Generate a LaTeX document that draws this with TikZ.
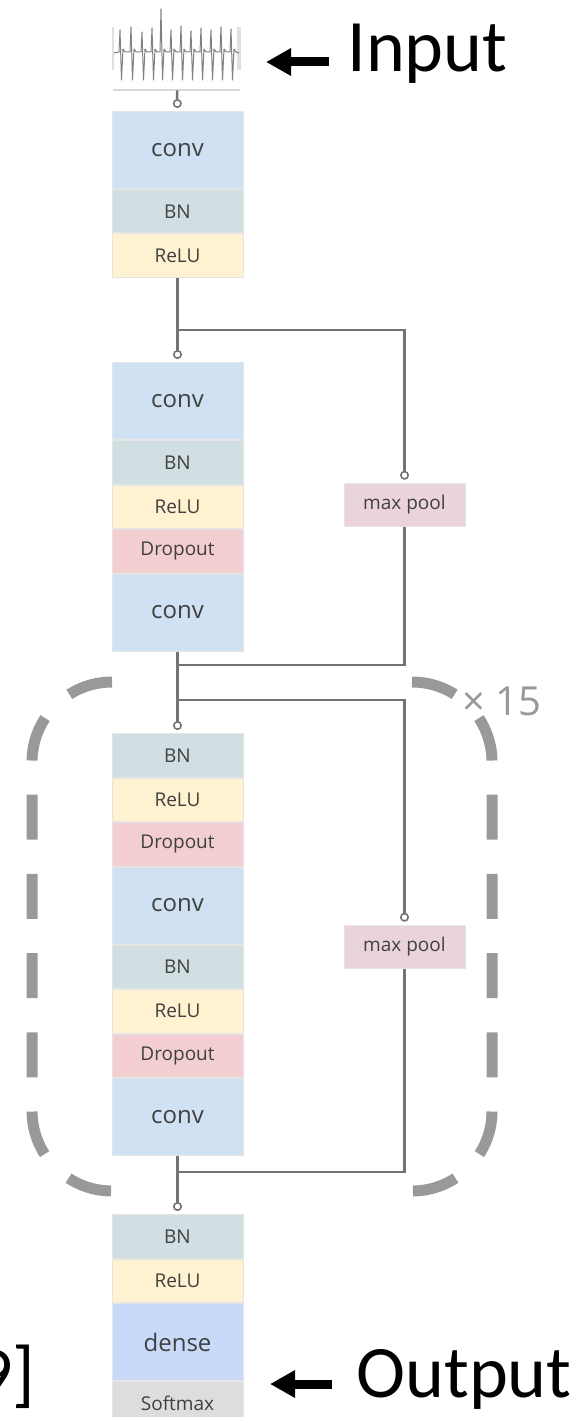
\documentclass[tikz,border=0pt]{standalone}
\usepackage{fontspec}
\setmainfont{Carlito}
\newfontfamily\layerfont{Open Sans}
\usetikzlibrary{positioning,arrows.meta}

\definecolor{convblue}{RGB}{207,225,242}
\definecolor{bngray}{RGB}{209,223,227}
\definecolor{reluyellow}{RGB}{255,242,208}
\definecolor{droppink}{RGB}{243,206,208}
\definecolor{poolpink}{RGB}{235,211,222}
\definecolor{denseblue}{RGB}{201,218,248}
\definecolor{softgray}{RGB}{221,221,221}

\begin{document}
\begin{tikzpicture}[x=0.5pt,y=-0.5pt,
    blk/.style={draw=black!10, line width=0.5pt, fill=#1, minimum width=65.5pt, minimum height=21.75pt,
        inner sep=0pt, text=black!75, font=\layerfont\fontsize{9.5}{10}\selectfont},
    bigblk/.style={blk=#1, minimum height=38.5pt, font=\layerfont\fontsize{12}{13}\selectfont},
    link/.style={draw=black!55, line width=1.25pt},
    tolayer/.style={link, -{Circle[open, length=4.5pt, width=4.5pt, line width=0.8pt]}, shorten >=1.5pt},
    bracket/.style={draw=black!40, line width=5.5pt, dash pattern=on 22.5pt off 17.1pt, rounded corners=40pt},
    pointer/.style={line width=4.5pt, -{Triangle[length=12.5pt,width=13pt]}},
    caption/.style={inner sep=0pt, font=\fontsize{37}{40}\selectfont}]
    \useasboundingbox (0,0) rectangle (586,1417);

    % input trace
    \node[minimum width=63.5pt, minimum height=42pt, inner sep=0pt] (ecg) at (177,48) {};
    \draw[black!15, line width=1pt] (113,90) -- (240,90);
    \draw[black!12, line width=1pt] (113,27) -- (113,70);
    \draw[black!12, line width=2pt] (239,27) -- (239,70);
    \draw[black!50, line width=0.5pt, line join=round] (114,53)
        foreach \x/\top in {119/30, 130/27, 141/32, 151/28, 160/9, 170/30, 180/26, 190/31, 200/28, 210/30, 220/27, 230/29}
        { -- (\x,52) -- (\x+1,\top) -- (\x+2.5,80) -- (\x+4,49) -- (\x+6,52) } -- (239,53);

    % first block
    \node[bigblk=convblue, anchor=north] (conv1) at (177.5,111) {conv};
    \node[blk=bngray, below=0pt of conv1] (bn1) {BN};
    \node[blk=reluyellow, below=0pt of bn1] (relu1) {ReLU};

    % second block
    \node[bigblk=convblue, anchor=north] (conv2) at (177.5,362) {conv};
    \node[blk=bngray, below=0pt of conv2] (bn2) {BN};
    \node[blk=reluyellow, below=0pt of bn2] (relu2) {ReLU};
    \node[blk=droppink, below=0pt of relu2] (drop2) {Dropout};
    \node[bigblk=convblue, below=0pt of drop2] (conv3) {conv};

    % repeated block
    \node[blk=bngray, anchor=north] (bn3) at (177.5,733) {BN};
    \node[blk=reluyellow, below=0pt of bn3] (relu3) {ReLU};
    \node[blk=droppink, below=0pt of relu3] (drop3) {Dropout};
    \node[bigblk=convblue, below=0pt of drop3] (conv4) {conv};
    \node[blk=bngray, below=0pt of conv4] (bn4) {BN};
    \node[blk=reluyellow, below=0pt of bn4] (relu4) {ReLU};
    \node[blk=droppink, below=0pt of relu4] (drop4) {Dropout};
    \node[bigblk=convblue, below=0pt of drop4] (conv5) {conv};

    % output block
    \node[blk=bngray, anchor=north] (bn5) at (177.5,1214) {BN};
    \node[blk=reluyellow, below=0pt of bn5] (relu5) {ReLU};
    \node[bigblk=denseblue, below=0pt of relu5] (dense) {dense};
    \node[blk=softgray, below=0pt of dense] (softmax) {Softmax};

    % shortcut pools
    \node[blk=poolpink, minimum width=60.5pt] (pool1) at (404.5,505) {max pool};
    \node[blk=poolpink, minimum width=60.5pt] (pool2) at (404.5,947) {max pool};

    % connections
    \coordinate (split1) at (177.5,330);
    \coordinate (merge1) at (177.5,665);
    \coordinate (split2) at (177.5,700);
    \coordinate (merge2) at (177.5,1172);
    \draw[tolayer] (ecg.south) -- (conv1.north);
    \draw[tolayer] (relu1.south) -- (conv2.north);
    \draw[tolayer] (split1) -| (pool1.north);
    \draw[link] (pool1.south) |- (merge1);
    \draw[tolayer] (conv3.south) -- (bn3.north);
    \draw[tolayer] (split2) -| (pool2.north);
    \draw[link] (pool2.south) |- (merge2);
    \draw[tolayer] (conv5.south) -- (bn5.north);

    % repeat brackets
    \draw[bracket] (112,682) -- (32,682) -- (32,1191) -- (112,1191);
    \draw[bracket] (412,682) -- (492,682) -- (492,1191) -- (412,1191);
    \node[inner sep=0pt, text=black!40, font=\layerfont\fontsize{20}{22}\selectfont] (repeat) at (502,701) {× 15};

    % captions
    \node[caption, anchor=base west] (inlabel) at (347,72) {Input};
    \coordinate (intip) at (266,62);
    \draw[pointer, shorten <=9pt] (inlabel.west |- intip) -- (intip);
    \node[caption, anchor=base west] (outlabel) at (356,1397) {Output};
    \coordinate (outtip) at (270,1384);
    \draw[pointer, shorten <=12pt] (outlabel.west |- outtip) -- (outtip);
    \node[caption, anchor=base east] (cite) at (36,1398) {9]};
\end{tikzpicture}
\end{document}
